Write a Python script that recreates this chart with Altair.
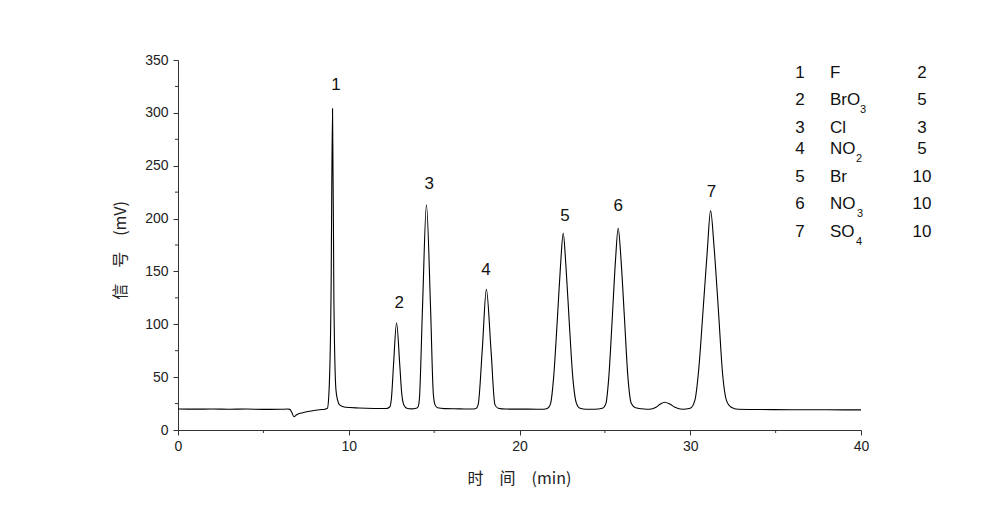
import altair as alt
import pandas as pd

# ---- chromatogram trace (time in min, signal in mV)
TIME = [
    0.0, 1.0, 2.0, 3.0, 4.0, 5.0, 6.0, 6.4, 6.55, 6.68, 6.79, 6.95, 7.3, 7.8, 8.3, 8.6,
    8.75, 8.84, 8.96, 9.05, 9.13, 9.25, 9.35, 9.48, 9.8, 10.6, 11.5,
    12.2, 12.41, 12.5, 12.62, 12.8, 12.99, 13.1, 13.23, 13.4, 13.67,
    13.95, 14.06, 14.14, 14.32, 14.55, 14.79, 14.95, 15.05, 15.2, 15.6,
    16.5, 17.2, 17.45, 17.58, 17.82, 18.06, 18.33, 18.56, 18.75, 19.2,
    20.5, 21.4, 21.65, 21.82, 22.0, 22.21, 22.4, 22.56, 22.72, 22.91, 23.12, 23.34, 23.55, 23.9,
    24.4, 24.85, 25.06, 25.23, 25.43, 25.62, 25.78, 25.95, 26.15, 26.35, 26.55, 26.8, 27.3,
    27.6, 28.0, 28.25, 28.5, 28.8, 29.1, 29.55,
    30.0, 30.27, 30.5, 30.75, 31.0, 31.19, 31.4, 31.65, 31.9, 32.12, 32.4, 32.8,
    34.0, 36.0, 38.0, 40.0,
]
SIGNAL = [
    19.8, 19.7, 19.8, 19.6, 19.8, 19.5, 19.6, 19.8, 19.5, 16.0, 12.6, 14.5, 16.4, 18.0, 19.2, 19.7,
    20.5, 35.0, 123.0, 304.0, 123.0, 38.0, 28.0, 23.5, 21.5, 20.8, 20.4,
    20.3, 22.0, 30.0, 61.0, 101.5, 61.0, 35.0, 23.6, 20.6, 20.0,
    20.5, 22.0, 30.0, 116.0, 213.0, 116.0, 35.0, 24.0, 21.0, 20.2,
    20.0, 19.8, 20.3, 24.0, 76.0, 133.0, 76.0, 24.0, 20.6, 19.8,
    19.7, 19.6, 20.5, 25.0, 50.0, 103.0, 155.0, 186.0, 155.0, 103.0, 50.0, 25.0, 20.5, 19.6,
    19.6, 20.5, 25.0, 50.0, 105.0, 160.0, 190.8, 160.0, 105.0, 50.0, 25.0, 21.0, 19.8,
    19.6, 21.5, 24.5, 26.2, 24.5, 21.5, 19.6,
    20.5, 28.0, 58.0, 113.0, 170.0, 207.5, 172.0, 113.0, 52.0, 28.0, 21.5, 19.6,
    19.4, 19.2, 19.1, 19.0,
]

# ---- peak labels
PEAK_LABELS = ["1", "2", "3", "4", "5", "6", "7"]
PEAK_LABEL_T = [9.25, 12.96, 14.72, 18.03, 22.66, 25.78, 31.24]
PEAK_LABEL_Y = [326.4, 120.4, 232.7, 151.4, 202.5, 212.0, 225.5]

# ---- legend table
ION_NO = ["1", "2", "3", "4", "5", "6", "7"]
ION_NAME = ["F", "BrO", "Cl", "NO", "Br", "NO", "SO"]
ION_SUB = ["", "3", "", "2", "", "3", "4"]
ION_CONC = ["2", "5", "3", "5", "10", "10", "10"]

# ---- axis ticks
X_TICKS = [0, 10, 20, 30, 40]
Y_TICKS = [0, 50, 100, 150, 200, 250, 300, 350]
X_MINOR = [5, 15, 25, 35]
Y_MINOR = [25, 75, 125, 175, 225, 275, 325]

# ---- layout (pixels inside the plot area)
W, H = 683, 370
X_MAX, Y_MAX = 40.0, 350.0
ROW_PX = [13, 40, 68, 89, 117, 144, 172]
NO_PX, NAME_PX, CONC_PX = 622, 652, 744
SUB_PX = [0, 682, 0, 678, 0, 679, 678]
SUB_DY = 10


def px_t(px):
    return px * X_MAX / W


def px_v(py):
    return (H - py) * Y_MAX / H


FONT = "Liberation Sans"
CJK = "Noto Sans CJK SC"

trace = pd.DataFrame({"t": TIME, "s": SIGNAL})
labels = pd.DataFrame({"t": PEAK_LABEL_T, "s": PEAK_LABEL_Y, "lab": PEAK_LABELS})

legend = pd.DataFrame({
    "no": ION_NO, "name": ION_NAME, "conc": ION_CONC,
    "s": [px_v(p) for p in ROW_PX],
    "t_no": [px_t(NO_PX)] * 7,
    "t_name": [px_t(NAME_PX)] * 7,
    "t_conc": [px_t(CONC_PX)] * 7,
})
sub_idx = [i for i, s in enumerate(ION_SUB) if s]
subs = pd.DataFrame({
    "sub": [ION_SUB[i] for i in sub_idx],
    "t": [px_t(SUB_PX[i]) for i in sub_idx],
    "s": [px_v(ROW_PX[i] + SUB_DY) for i in sub_idx],
})

xscale = alt.Scale(domain=[0, X_MAX], nice=False, zero=False)
yscale = alt.Scale(domain=[0, Y_MAX], nice=False, zero=False)

axis_common = dict(
    grid=False, tickSize=5, tickColor="#333", domainColor="#333", domainWidth=1,
    tickWidth=1, labelFont=FONT, labelFontSize=14, labelColor="#222",
    labelFlush=False, titleFont=CJK, titleFontSize=16, titleFontWeight="normal",
    titleColor="#222", titleBaseline="middle",
)

xaxis = alt.Axis(values=X_TICKS, title="时　间　(min)", labelPadding=4,
                 titleX=341, titleY=48, titleAngle=0, **axis_common)
yaxis = alt.Axis(values=Y_TICKS, title="信　号　(mV)", labelPadding=5,
                 titleX=-58, titleY=190, titleAngle=-90, **axis_common)

line = alt.Chart(trace).mark_line(color="black", strokeWidth=1.1, interpolate="monotone").encode(
    x=alt.X("t:Q", scale=xscale, axis=xaxis),
    y=alt.Y("s:Q", scale=yscale, axis=yaxis),
)

xminor = alt.Chart(pd.DataFrame({"t": X_MINOR})).mark_rule(color="#333", strokeWidth=1).encode(
    x=alt.X("t:Q", scale=xscale), y=alt.value(H), y2=alt.value(H + 3)
)
yminor = alt.Chart(pd.DataFrame({"s": Y_MINOR})).mark_rule(color="#333", strokeWidth=1).encode(
    y=alt.Y("s:Q", scale=yscale), x=alt.value(0), x2=alt.value(-3)
)

peak_text = alt.Chart(labels).mark_text(font=FONT, fontSize=17, color="#111", baseline="middle").encode(
    x=alt.X("t:Q", scale=xscale), y=alt.Y("s:Q", scale=yscale), text="lab:N"
)

leg_no = alt.Chart(legend).mark_text(font=FONT, fontSize=17, color="#111", align="center", baseline="middle").encode(
    x=alt.X("t_no:Q", scale=xscale), y=alt.Y("s:Q", scale=yscale), text="no:N"
)
leg_name = alt.Chart(legend).mark_text(font=FONT, fontSize=17, color="#111", align="left", baseline="middle").encode(
    x=alt.X("t_name:Q", scale=xscale), y=alt.Y("s:Q", scale=yscale), text="name:N"
)
leg_conc = alt.Chart(legend).mark_text(font=FONT, fontSize=17, color="#111", align="center", baseline="middle").encode(
    x=alt.X("t_conc:Q", scale=xscale), y=alt.Y("s:Q", scale=yscale), text="conc:N"
)
leg_sub = alt.Chart(subs).mark_text(font=FONT, fontSize=11, color="#111", align="left", baseline="middle").encode(
    x=alt.X("t:Q", scale=xscale), y=alt.Y("s:Q", scale=yscale), text="sub:N"
)

chart = alt.layer(
    line, xminor, yminor, peak_text, leg_no, leg_name, leg_conc, leg_sub
).properties(
    width=W, height=H,
    autosize=alt.AutoSizeParams(type="none"),
    padding={"left": 170, "top": 52, "right": 131, "bottom": 79},
    background="white",
).configure_view(stroke=None)

chart.save("out.html", embed_options={"renderer": "svg", "actions": False})
